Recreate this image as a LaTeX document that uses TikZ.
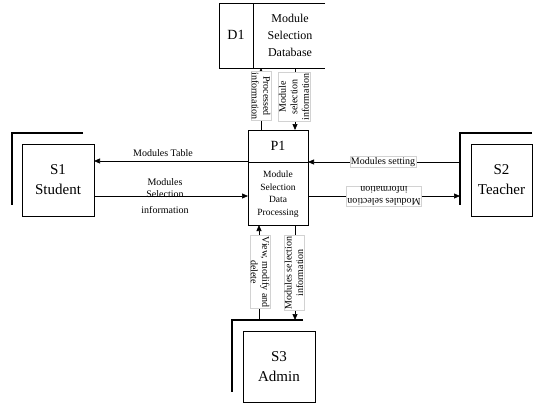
\documentclass[tikz,border=0pt]{standalone}
\usepackage{fontspec}
\setmainfont{Liberation Serif}
\usetikzlibrary{arrows.meta}

\begin{document}
\begin{tikzpicture}[x=1pt,y=-1pt,
  flow/.style={-{Triangle[length=6pt,width=5pt]},line width=0.7pt},
  flowlabel/.style={font=\fontsize{10}{11.5}\selectfont,align=center,fill=white,inner sep=1pt},
  boxed/.style={flowlabel,draw=gray!35,line width=0.3pt},
  entity/.style={draw,line width=0.8pt,font=\fontsize{15}{20}\selectfont,align=center}]
\useasboundingbox (0,0) rectangle (554,415);

% data store D1
\draw[line width=0.8pt] (325,3) -- (219,3) -- (219,68) -- (325,68);
\draw[line width=0.8pt] (253,3) -- (253,68);
\node[font=\fontsize{14}{17}\selectfont] (d1id) at (236,35) {D1};
\node[font=\fontsize{12}{17}\selectfont,align=center] (d1name) at (290,35) {Module\\Selection\\Database};
\coordinate (d1a) at (261,68);
\coordinate (d1b) at (295,68);

% process P1
\draw[line width=0.8pt] (248,130) rectangle (308,225);
\draw[line width=0.8pt] (248,162) -- (308,162);
\node[font=\fontsize{14}{17}\selectfont] (p1id) at (278,146) {P1};
\node[font=\fontsize{9.5}{12.5}\selectfont,align=center] (p1name) at (278,194) {Module\\Selection\\Data\\Processing};

% entities
\draw[line width=1.1pt] (83,133) -- (12,133) -- (12,205);
\node[entity,minimum width=72pt,minimum height=72pt] (s1) at (58,180) {S1\\Student};
\draw[line width=1.1pt] (532,133) -- (460,133) -- (460,205);
\node[entity,minimum width=61pt,minimum height=72pt] (s2) at (501.5,180) {S2\\Teacher};
\draw[line width=1.1pt] (303,320) -- (232,320) -- (232,392);
\node[entity,minimum width=72pt,minimum height=71pt] (s3) at (279,366.5) {S3\\Admin};

% flows P1 <-> D1
\draw[flow] (261,130) -- (d1a);
\node[boxed,rotate=-90] (fl1) at (261,96) {Processed\\information};
\draw[flow] (d1b) -- (295,130);
\node[boxed,rotate=90] (fl2) at (294,97) {Module\\selection\\information};

% flows P1 <-> S1
\draw[flow] (248,161) -- (94,161);
\node[flowlabel,fill=none] (fl3) at (163,153) {Modules Table};
\draw[flow] (94,196) -- (248,196);
\node[flowlabel,fill=none] (fl4) at (165,188) {Modules\\Selection};
\node[flowlabel,fill=none] (fl5) at (165,210) {information};

% flows P1 <-> S2
\draw[flow] (460,162) -- (308,162);
\node[boxed] (fl6) at (383,162) {Modules setting};
\draw[flow] (308,196) -- (460,196);
\node[boxed,rotate=180] (fl7) at (384,196) {Modules selection\\information};

% flows P1 <-> S3
\draw[flow] (259,320) -- (259,225);
\node[boxed,rotate=-90] (fl8) at (260,272) {View, modify and\\delete};
\draw[flow] (295,225) -- (295,320);
\node[boxed,rotate=90] (fl9) at (294,273) {Modules selection\\information};
\end{tikzpicture}
\end{document}
